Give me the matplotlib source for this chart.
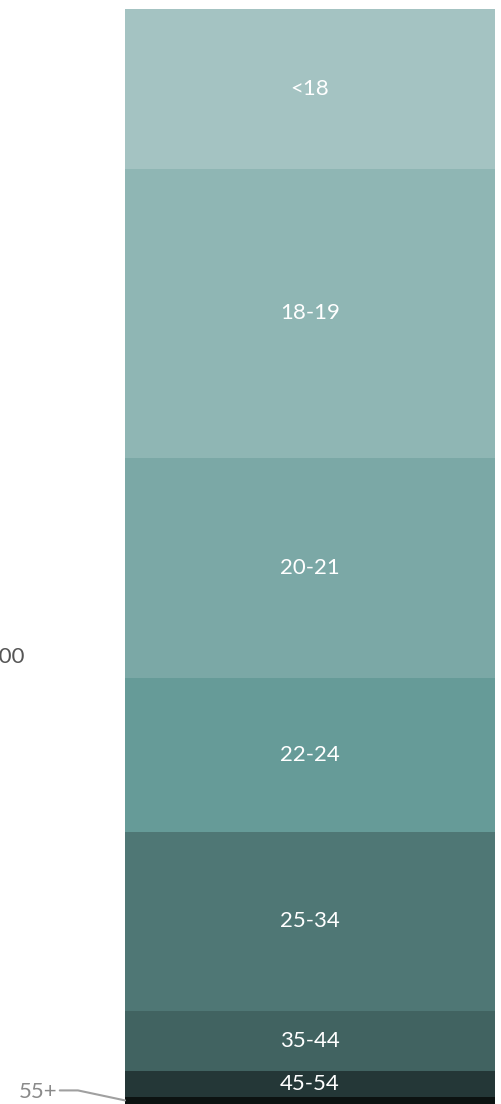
import matplotlib
matplotlib.use("Agg")
import matplotlib.pyplot as plt
import numpy as np

# age groups, bottom to top of the stack
groups = ["55+", "45-54", "35-44", "25-34", "22-24", "20-21", "18-19", "<18"]
counts = [16, 58, 134, 399, 343, 490, 644, 356]
colors = ["#0c1211", "#243737", "#416361", "#4f7775", "#669b98", "#7ba8a6", "#8fb6b4", "#a4c3c2"]
tick_vals = [1000]
tick_labels = ["1000"]

plt.rcParams["font.family"] = ["Lato", "DejaVu Sans"]

fig = plt.figure(figsize=(5.02, 11.04), dpi=100)
ax = fig.add_axes([125 / 502, 0, 370 / 502, 1 - 9 / 1104])

bottoms = np.concatenate([[0], np.cumsum(counts)[:-1]])
ax.bar([0] * len(counts), counts, bottom=bottoms, width=1, color=colors, linewidth=0)
ax.set_xlim(-0.5, 0.5)
ax.set_ylim(0, sum(counts))

for g, c, b in zip(groups, counts, bottoms):
    if g == "55+":
        ax.annotate(g, xy=(0, b + c / 2), xycoords=("axes fraction", "data"),
                    xytext=(-68, 8), textcoords="offset pixels",
                    ha="right", va="center", fontsize=16, color="#8a8a8a",
                    arrowprops=dict(arrowstyle="-", color="#a0a0a0", lw=1.5,
                                    shrinkA=0, shrinkB=0, relpos=(1, 0.6),
                                    connectionstyle="angle,angleA=0,angleB=168,rad=0"))
    else:
        ax.text(0, b + c / 2, g, ha="center", va="center", fontsize=16, color="white")

ax.set_yticks(tick_vals)
ax.set_yticklabels(tick_labels, fontsize=16, color="#555555")
ax.tick_params(axis="y", length=0, pad=72)
ax.set_xticks([])
for s in ax.spines.values():
    s.set_visible(False)

fig.savefig("out.png", dpi=100)
